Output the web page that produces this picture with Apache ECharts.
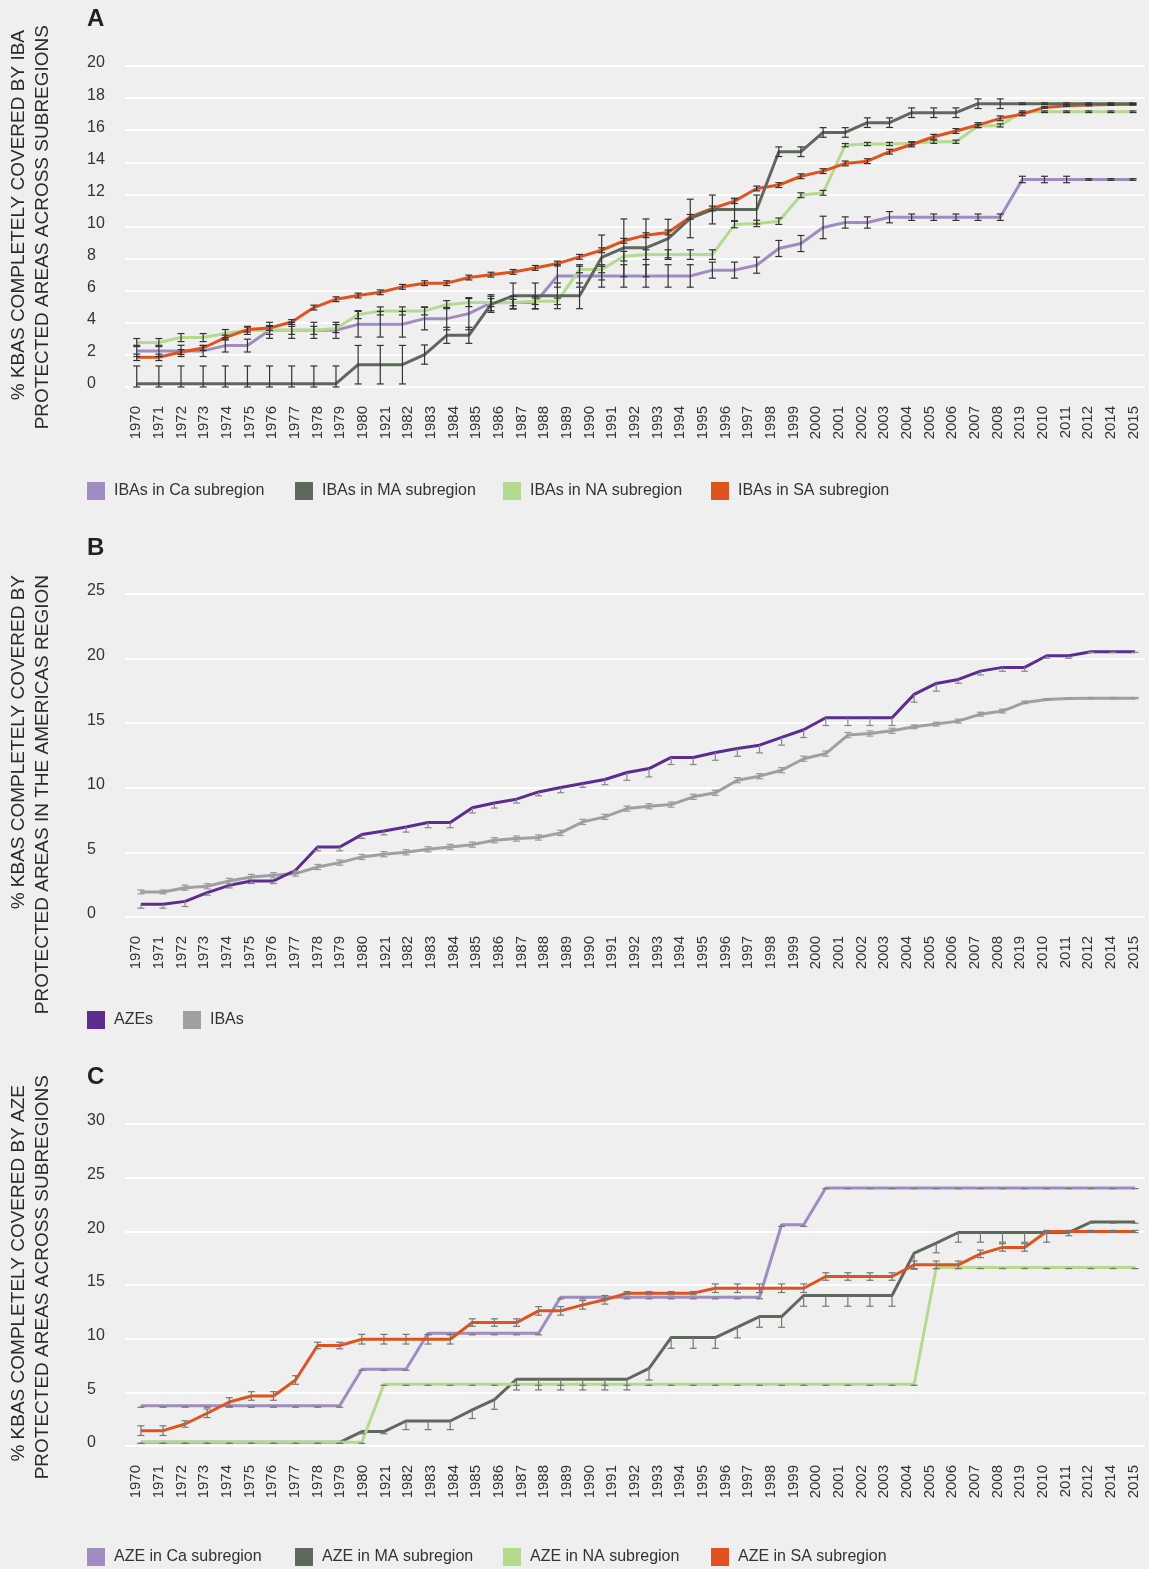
<!DOCTYPE html>
<html><head><meta charset="utf-8">
<script src="https://cdn.jsdelivr.net/npm/echarts@6/dist/echarts.min.js"></script>
<style>html,body{margin:0;padding:0;background:#efefef}#c{width:1149px;height:1569px}</style>
</head><body><div id="c"></div><script>
// ---- tick labels (as printed on the original) ----
const tickLabels = ['1970','1971','1972','1973','1974','1975','1976','1977','1978','1979','1980','1921','1982','1983','1984','1985','1986','1987','1988','1989','1990','1991','1992','1993','1994','1995','1996','1997','1998','1999','2000','2001','2002','2003','2004','2005','2006','2007','2008','2019','2010','2011','2012','2014','2015'];
// ---- data years (46 points per series) ----
const years = [1970,1971,1972,1973,1974,1975,1976,1977,1978,1979,1980,1981,1982,1983,1984,1985,1986,1987,1988,1989,1990,1991,1992,1993,1994,1995,1996,1997,1998,1999,2000,2001,2002,2003,2004,2005,2006,2007,2008,2009,2010,2011,2012,2013,2014,2015];

// ---- Panel A: IBAs by subregion ----
const caIBA = [2.25,2.25,2.25,2.25,2.58,2.58,3.53,3.53,3.53,3.53, 3.91,3.91,3.91,4.26,4.26,4.57,5.25,5.26,5.26,6.92, 6.92,6.92,6.92,6.92,6.92,6.92,7.28,7.28,7.59,8.63, 8.94,9.94,10.25,10.25,10.58,10.58,10.58,10.58,10.58,10.58, 12.93,12.93,12.93,12.93,12.93,12.93];
const maIBA = [0.21,0.21,0.21,0.21,0.21,0.21,0.21,0.21,0.21,0.21, 1.39,1.39,1.39,2.02,3.22,3.22,5.15,5.68,5.68,5.68, 5.68,8.07,8.67,8.67,9.25,10.5,11.06,11.06,11.06,14.66, 14.66,15.86,15.86,16.47,16.47,17.09,17.09,17.09,17.65,17.65, 17.65,17.65,17.65,17.65,17.65,17.65];
const naIBA = [2.77,2.77,3.08,3.08,3.33,3.53,3.53,3.53,3.53,3.64, 4.51,4.74,4.74,4.74,5.13,5.26,5.26,5.26,5.34,5.34, 7.32,7.32,8.15,8.25,8.25,8.25,8.25,10.12,10.19,10.33, 11.95,12.1,15.07,15.14,15.14,15.18,15.28,15.28,16.26,16.3, 17.15,17.15,17.15,17.15,17.15,17.15];
const saIBA = [1.85,1.85,2.18,2.43,3.08,3.58,3.68,4.05,4.95,5.47, 5.70,5.90,6.24,6.47,6.47,6.82,7.0,7.17,7.42,7.69, 8.11,8.52,9.11,9.46,9.63,10.6,11.12,11.58,12.37,12.58, 13.13,13.45,13.93,14.07,14.66,15.11,15.59,15.95,16.32,16.74, 17.0,17.42,17.53,17.57,17.6,17.61];
const caIBAErr = [0.35,0.35,0.35,0.35,0.4,0.4,0.5,0.5,0.5,0.5, 0.8,0.8,0.8,0.7,0.7,1.0,0.5,0.4,0.4,0.7, 0.7,0.7,0.7,0.7,0.7,0.7,0.5,0.5,0.5,0.5, 0.5,0.7,0.35,0.35,0.35,0.2,0.2,0.2,0.2,0.2, 0.2,0.2,0.2,0.05,0.05,0.05];
const maIBAErr = [1.1,1.1,1.1,1.1,1.1,1.1,1.1,1.1,1.1,1.1, 1.2,1.2,1.2,0.6,0.5,0.5,0.5,0.8,0.8,0.8, 0.8,1.4,1.8,1.8,1.2,1.2,0.9,0.7,0.9,0.3, 0.3,0.3,0.3,0.3,0.3,0.3,0.3,0.3,0.3,0.3, 0.05,0.05,0.05,0.05,0.05,0.05];
const naIBAErr = [0.25,0.25,0.25,0.25,0.25,0.25,0.25,0.25,0.25,0.25, 0.25,0.25,0.25,0.25,0.25,0.25,0.25,0.2,0.2,0.2, 0.2,0.2,0.3,0.3,0.3,0.3,0.3,0.2,0.2,0.2, 0.15,0.15,0.1,0.1,0.1,0.1,0.1,0.1,0.1,0.1, 0.05,0.05,0.05,0.05,0.05,0.05];
const saIBAErr = [0.2,0.2,0.15,0.15,0.15,0.15,0.15,0.15,0.15,0.15, 0.15,0.15,0.15,0.15,0.15,0.15,0.15,0.15,0.15,0.15, 0.15,0.15,0.15,0.15,0.15,0.15,0.15,0.15,0.15,0.15, 0.15,0.15,0.15,0.15,0.15,0.15,0.15,0.15,0.15,0.15, 0.1,0.05,0.05,0.05,0.05,0.05];

// ---- Panel B: Americas region ----
const azeB = [0.98,0.98,1.21,1.89,2.45,2.79,2.79,3.62,5.42,5.42, 6.38,6.66,6.97,7.31,7.31,8.45,8.83,9.12,9.68,10.02, 10.33,10.64,11.18,11.49,12.35,12.35,12.73,13.04,13.3,13.9, 14.49,15.42,15.42,15.42,15.42,17.23,18.08,18.39,19.03,19.32, 19.32,20.22,20.22,20.53,20.53,20.53];
const ibaB = [1.94,1.94,2.27,2.38,2.79,3.1,3.23,3.36,3.87,4.21, 4.65,4.86,5.01,5.24,5.42,5.6,5.94,6.07,6.15,6.51, 7.36,7.75,8.39,8.57,8.7,9.3,9.61,10.59,10.9,11.36, 12.25,12.65,14.08,14.2,14.41,14.72,14.93,15.16,15.7,15.94, 16.61,16.84,16.92,16.94,16.94,16.94];
const azeBErr = [0.3,0.3,0.4,0.2,0.2,0.2,0.2,0.2,0.3,0.3, 0.3,0.3,0.4,0.4,0.4,0.4,0.4,0.3,0.3,0.4, 0.3,0.4,0.6,0.65,0.55,0.55,0.6,0.6,0.6,0.6, 0.6,0.6,0.6,0.6,0.6,0.6,0.6,0.3,0.3,0.3, 0.3,0.2,0.2,0.05,0.05,0.05];
const ibaBErr = [0.15,0.15,0.2,0.2,0.2,0.2,0.2,0.2,0.2,0.2, 0.2,0.2,0.2,0.2,0.2,0.2,0.2,0.2,0.2,0.2, 0.2,0.2,0.2,0.2,0.2,0.2,0.2,0.2,0.2,0.2, 0.2,0.2,0.2,0.2,0.2,0.15,0.15,0.15,0.15,0.15, 0.1,0.05,0.05,0.05,0.05,0.05];

// ---- Panel C: AZEs by subregion ----
const caAZE = [3.76,3.76,3.76,3.76,3.76,3.76,3.76,3.76,3.76,3.76, 7.15,7.15,7.15,10.51,10.51,10.51,10.51,10.51,10.51,13.86, 13.86,13.86,13.86,13.86,13.86,13.86,13.86,13.86,13.86,20.61, 20.61,24.03,24.03,24.03,24.03,24.03,24.03,24.03,24.03,24.03, 24.03,24.03,24.03,24.03,24.03,24.03];
const maAZE = [0.34,0.34,0.34,0.34,0.34,0.34,0.34,0.34,0.34,0.34, 1.34,1.34,2.33,2.33,2.33,3.36,4.32,6.22,6.22,6.22, 6.22,6.22,6.22,7.24,10.1,10.1,10.1,11.07,12.06,12.06, 14.02,14.02,14.02,14.02,14.02,17.97,18.9,19.89,19.89,19.89, 19.89,19.89,19.89,20.86,20.86,20.86];
const naAZE = [0.34,0.34,0.34,0.34,0.34,0.34,0.34,0.34,0.34,0.34, 0.34,5.75,5.75,5.75,5.75,5.75,5.75,5.75,5.75,5.75, 5.75,5.75,5.75,5.75,5.75,5.75,5.75,5.75,5.75,5.75, 5.75,5.75,5.75,5.75,5.75,5.75,16.63,16.63,16.63,16.63, 16.63,16.63,16.63,16.63,16.63,16.63];
const saAZE = [1.43,1.43,2.05,3.05,4.10,4.66,4.66,6.15,9.36,9.36, 9.95,9.95,9.95,9.95,9.95,11.5,11.5,11.5,12.59,12.59, 13.15,13.62,14.24,14.24,14.24,14.24,14.7,14.7,14.7,14.7, 14.7,15.79,15.79,15.79,15.79,16.88,16.88,16.88,17.9,18.5, 18.5,19.99,19.99,19.99,19.99,19.99];
const caAZEErr = [0.15,0.15,0.15,0.15,0.15,0.15,0.15,0.15,0.15,0.15, 0.1,0.1,0.1,0.15,0.15,0.15,0.15,0.15,0.15,0.15, 0.15,0.15,0.15,0.15,0.15,0.15,0.15,0.15,0.15,0.15, 0.15,0.05,0.05,0.05,0.05,0.05,0.05,0.05,0.05,0.05, 0.05,0.05,0.05,0.05,0.05,0.05];
const maAZEErr = [0.1,0.1,0.1,0.1,0.1,0.1,0.1,0.1,0.1,0.1, 0.2,0.2,0.8,0.8,0.8,0.8,0.9,1.0,1.0,1.0, 1.0,1.0,1.0,1.1,1.0,1.0,1.0,1.0,1.0,1.0, 1.0,1.0,1.0,1.0,1.0,1.5,0.9,0.9,0.9,0.9, 0.9,0.9,0.3,0.1,0.1,0.1];
const naAZEErr = [0.1,0.1,0.1,0.1,0.1,0.1,0.1,0.1,0.1,0.1, 0.1,0.1,0.1,0.1,0.1,0.1,0.1,0.1,0.1,0.1, 0.1,0.1,0.1,0.1,0.1,0.1,0.1,0.1,0.1,0.1, 0.1,0.1,0.1,0.1,0.1,0.1,0.1,0.1,0.1,0.1, 0.1,0.1,0.1,0.1,0.1,0.1];
const saAZEErr = [0.45,0.45,0.3,0.4,0.4,0.4,0.4,0.4,0.3,0.3, 0.45,0.45,0.45,0.45,0.45,0.35,0.35,0.35,0.4,0.4, 0.4,0.4,0.15,0.15,0.15,0.15,0.4,0.4,0.4,0.4, 0.4,0.35,0.35,0.35,0.35,0.35,0.35,0.35,0.35,0.35, 0.35,0.1,0.1,0.1,0.1,0.1];

// ---- styling ----
const FONT = 'Liberation Sans, Arial, Helvetica, sans-serif';
const C_CA = '#a08cc1', C_MA = '#5d6a5b', C_NA = '#b4da8d', C_SA = '#e0531f';
const C_AZE = '#5c2c8f', C_IBA = '#a0a0a0';

const grids = [
  {left:125, right:4, top:66, height:321},
  {left:125, right:4, top:594, height:323},
  {left:125, right:4, top:1124, height:322}
];
const yMax = [20, 25, 30], yInt = [2, 5, 5];
const xRange = [[-0.53, 45.54], [-0.72, 45.45], [-0.72, 45.45]];

const xAxis = [], yAxis = [];
grids.forEach((g, k) => {
  xAxis.push({type:'category', gridIndex:k, data:tickLabels, boundaryGap:true,
    axisLine:{show:false}, axisTick:{show:false}, splitLine:{show:false},
    axisLabel:{rotate:90, interval:0, margin:19, fontSize:15, color:'#333', fontFamily:FONT}});
  xAxis.push({type:'value', gridIndex:k, min:xRange[k][0], max:xRange[k][1], show:false});
  yAxis.push({type:'value', gridIndex:k, min:0, max:yMax[k], interval:yInt[k],
    axisLine:{show:false}, axisTick:{show:false},
    splitLine:{show:true, lineStyle:{color:'#ffffff', width:2}},
    axisLabel:{align:'left', margin:38, fontSize:16, color:'#333', fontFamily:FONT,
      verticalAlign:'bottom', lineHeight:6}});
});

function lineS(name, k, vals, color, z) {
  return {type:'line', name, xAxisIndex:2*k+1, yAxisIndex:k, z,
    data: vals.map((v, i) => [i, v]), showSymbol:false, symbol:'none',
    lineStyle:{width:3, color}, itemStyle:{color}, emphasis:{disabled:true}, animation:false};
}
function errS(k, vals, errs, side, color) {
  return {type:'custom', xAxisIndex:2*k+1, yAxisIndex:k, z:10, silent:true, animation:false,
    data: vals.map((v, i) => [i, v, errs[i]]), encode:{x:0, y:1},
    renderItem: (params, api) => {
      const i = api.value(0), v = api.value(1), e = api.value(2);
      const lo = side === 'up' ? v : Math.max(0, v - e);
      const hi = side === 'down' ? v : v + e;
      const pt = api.coord([i, hi]), pb = api.coord([i, lo]);
      const w = 3.5, st = {stroke:color, lineWidth:1.2};
      const ch = [{type:'line', shape:{x1:pt[0], y1:pt[1], x2:pb[0], y2:pb[1]}, style:st}];
      if (side !== 'down') ch.push({type:'line', shape:{x1:pt[0]-w, y1:pt[1], x2:pt[0]+w, y2:pt[1]}, style:st});
      if (side !== 'up') ch.push({type:'line', shape:{x1:pb[0]-w, y1:pb[1], x2:pb[0]+w, y2:pb[1]}, style:st});
      return {type:'group', children:ch};
    }};
}

const N = {
  a:['IBAs in Ca subregion','IBAs in MA subregion','IBAs in NA subregion','IBAs in SA subregion'],
  b:['AZEs','IBAs'],
  c:['AZE in Ca subregion','AZE in MA subregion','AZE in NA subregion','AZE in SA subregion']
};

const series = [
  lineS(N.a[0], 0, caIBA, C_CA, 2), lineS(N.a[1], 0, maIBA, C_MA, 5),
  lineS(N.a[2], 0, naIBA, C_NA, 3), lineS(N.a[3], 0, saIBA, C_SA, 4),
  errS(0, caIBA, caIBAErr, 'both', '#333'), errS(0, maIBA, maIBAErr, 'both', '#333'),
  errS(0, naIBA, naIBAErr, 'both', '#333'), errS(0, saIBA, saIBAErr, 'both', '#333'),
  lineS(N.b[0], 1, azeB, C_AZE, 4), lineS(N.b[1], 1, ibaB, C_IBA, 3),
  errS(1, azeB, azeBErr, 'down', '#888'), errS(1, ibaB, ibaBErr, 'both', '#999'),
  lineS(N.c[0], 2, caAZE, C_CA, 2), lineS(N.c[1], 2, maAZE, C_MA, 3),
  lineS(N.c[2], 2, naAZE, C_NA, 4), lineS(N.c[3], 2, saAZE, C_SA, 5),
  errS(2, caAZE, caAZEErr, 'down', '#777'), errS(2, maAZE, maAZEErr, 'down', '#777'),
  errS(2, naAZE, naAZEErr, 'down', '#777'), errS(2, saAZE, saAZEErr, 'both', '#777')
];

function legendItem(name, left, top) {
  return {data:[name], left, top, padding:0, itemWidth:18, itemHeight:18, icon:'rect',
    selectedMode:false, textStyle:{fontSize:16, color:'#333', fontFamily:FONT, padding:[0,0,0,4]}};
}
const legend = [
  legendItem(N.a[0], 87, 482), legendItem(N.a[1], 295, 482), legendItem(N.a[2], 503, 482), legendItem(N.a[3], 711, 482),
  legendItem(N.b[0], 87, 1011), legendItem(N.b[1], 183, 1011),
  legendItem(N.c[0], 87, 1548), legendItem(N.c[1], 295, 1548), legendItem(N.c[2], 503, 1548), legendItem(N.c[3], 711, 1548)
];

function rotText(text, x, y) {
  return {type:'text', x, y, rotation:Math.PI/2, silent:true,
    style:{text, font:'19px ' + FONT, fill:'#2a2a2a', textAlign:'right', align:'right',
      textVerticalAlign:'middle', verticalAlign:'middle'}};
}
function title(text, y) {
  return {type:'text', x:87, y, silent:true,
    style:{text, font:'bold 24px ' + FONT, fill:'#222', textVerticalAlign:'middle', verticalAlign:'middle'}};
}
const graphic = [
  title('A', 19), title('B', 548), title('C', 1077),
  rotText('% KBAS COMPLETELY COVERED BY IBA', 18.5, 30),
  rotText('PROTECTED AREAS ACROSS SUBREGIONS', 42.5, 25),
  rotText('% KBAS COMPLETELY COVERED BY', 18.5, 575),
  rotText('PROTECTED AREAS IN THE AMERICAS REGION', 42.5, 575),
  rotText('% KBAS COMPLETELY COVERED BY AZE', 18.5, 1085),
  rotText('PROTECTED AREAS ACROSS SUBREGIONS', 42.5, 1075)
];

const chart = echarts.init(document.getElementById('c'), null, {renderer:'canvas'});
chart.setOption({
  backgroundColor:'#efefef', animation:false,
  textStyle:{fontFamily:FONT},
  grid:grids, xAxis, yAxis, series, legend, graphic
});
</script></body></html>
